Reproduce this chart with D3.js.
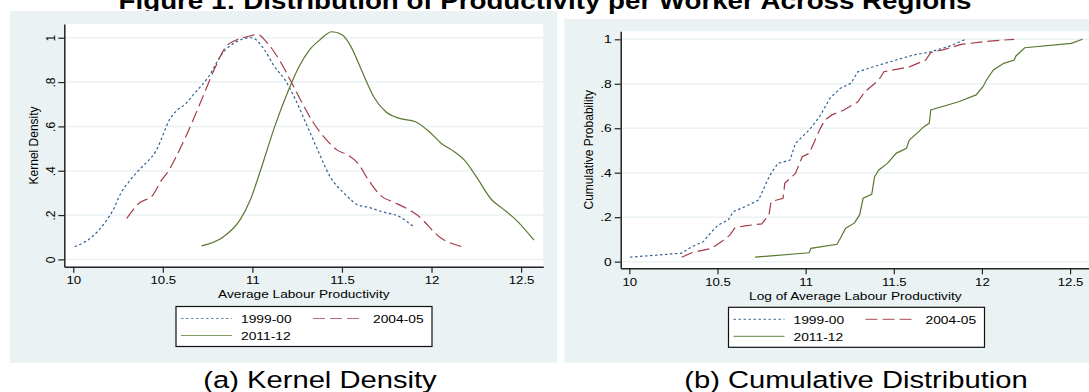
<!DOCTYPE html>
<html>
<head>
<meta charset="utf-8">
<script src="https://cdn.jsdelivr.net/npm/d3@7"></script>
<style>
  body { margin: 0; background: #fff; }
  svg { display: block; font-family: "Liberation Sans", Arial, Helvetica, sans-serif; }
</style>
</head>
<body>
<script>
// kernel density estimates, [log productivity, density]
const kd1999 = [[10.008,0.057],[10.105,0.102],[10.173,0.162],[10.231,0.237],[10.251,0.275],[10.318,0.358],
  [10.367,0.403],[10.464,0.493],[10.542,0.636],[10.581,0.674],[10.619,0.696],[10.677,0.749],[10.755,0.824],
  [10.833,0.930],[10.911,0.982],[10.988,1.000],[11.017,0.993],[11.066,0.947],[11.124,0.869],[11.182,0.810],
  [11.241,0.720],[11.299,0.614],[11.357,0.508],[11.434,0.373],[11.512,0.298],[11.551,0.268],[11.590,0.245],
  [11.648,0.235],[11.725,0.215],[11.822,0.192],[11.900,0.147]];
const kd2004 = [[10.299,0.185],[10.367,0.253],[10.444,0.290],[10.493,0.358],[10.522,0.388],[10.619,0.538],
  [10.716,0.719],[10.794,0.869],[10.852,0.959],[10.911,0.990],[10.988,1.008],[11.027,1.015],[11.085,0.975],
  [11.162,0.884],[11.221,0.794],[11.279,0.704],[11.337,0.621],[11.415,0.538],[11.473,0.493],[11.532,0.471],
  [11.590,0.433],[11.648,0.358],[11.725,0.282],[11.784,0.260],[11.920,0.200],[12.055,0.095],[12.172,0.057]];
const kd2011 = [[10.716,0.061],[10.833,0.099],[10.930,0.177],[10.988,0.268],[11.046,0.403],[11.124,0.598],
  [11.202,0.764],[11.260,0.869],[11.318,0.944],[11.376,0.990],[11.444,1.027],[11.503,1.012],[11.551,0.959],
  [11.609,0.854],[11.677,0.734],[11.745,0.666],[11.822,0.636],[11.910,0.621],[11.997,0.569],[12.055,0.523],
  [12.114,0.493],[12.192,0.440],[12.250,0.373],[12.337,0.268],[12.395,0.230],[12.463,0.185],[12.572,0.087]];

// cumulative distributions, [log productivity, probability]
const cdf1999 = [[10.004,0.020],[10.297,0.038],[10.354,0.067],[10.420,0.090],[10.467,0.135],[10.505,0.165],
  [10.562,0.188],[10.590,0.225],[10.656,0.247],[10.733,0.277],[10.784,0.367],[10.804,0.397],[10.843,0.442],
  [10.912,0.457],[10.942,0.532],[11.020,0.592],[11.079,0.652],[11.138,0.735],[11.197,0.780],[11.257,0.802],
  [11.296,0.854],[11.415,0.884],[11.513,0.907],[11.611,0.929],[11.710,0.944],[11.809,0.967],[11.908,1.000]];
const cdf2004 = [[10.297,0.020],[10.354,0.040],[10.467,0.060],[10.524,0.090],[10.571,0.120],[10.600,0.153],
  [10.656,0.161],[10.751,0.170],[10.792,0.210],[10.804,0.270],[10.872,0.285],[10.882,0.353],[10.942,0.397],
  [10.981,0.472],[11.020,0.487],[11.079,0.592],[11.109,0.637],[11.149,0.660],[11.217,0.682],[11.296,0.719],
  [11.336,0.764],[11.415,0.817],[11.444,0.854],[11.592,0.877],[11.681,0.907],[11.710,0.940],[11.789,0.955],
  [11.888,0.978],[12.045,0.992],[12.183,1.000]];
const cdf2011 = [[10.713,0.020],[11.020,0.040],[11.030,0.060],[11.178,0.078],[11.197,0.105],[11.227,0.150],
  [11.276,0.173],[11.306,0.210],[11.326,0.285],[11.375,0.303],[11.391,0.382],[11.415,0.412],[11.464,0.442],
  [11.513,0.487],[11.572,0.510],[11.588,0.547],[11.631,0.577],[11.671,0.607],[11.701,0.622],[11.710,0.682],
  [11.868,0.719],[11.967,0.750],[12.006,0.787],[12.026,0.817],[12.065,0.862],[12.124,0.892],[12.183,0.907],
  [12.193,0.925],[12.243,0.962],[12.506,0.982],[12.571,1.000]];

const seriesNames = ["1999-00", "2004-05", "2011-12"];
const xTicks = [10, 10.5, 11, 11.5, 12, 12.5];
const yTicks = [0, 0.2, 0.4, 0.6, 0.8, 1];
const yTickLabels = ["0", ".2", ".4", ".6", ".8", "1"];

const styles = [
  { color: "#2f6194", dash: "2.5,2.5" },
  { color: "#a33c47", dash: "12,5" },
  { color: "#58792f", dash: null }
];

// the source figure was widened, so its lettering is stretched sideways
const SX = 1.2;

const svg = d3.select("body").append("svg").attr("width", 1089).attr("height", 392);

function stretched(parent, x, y, size, txt) {
  return parent.append("text")
    .attr("transform", `translate(${x},${y}) scale(${SX},1)`)
    .attr("text-anchor", "middle")
    .attr("font-size", size)
    .text(txt);
}

stretched(svg, 545, 8.5, 23.1, "Figure 1: Distribution of Productivity per Worker Across Regions")
  .attr("font-weight", "bold");

function drawPanel(cfg) {
  const g = svg.append("g");
  const p = cfg.plot;

  g.append("rect")
    .attr("x", cfg.bg[0]).attr("y", cfg.bg[1])
    .attr("width", cfg.bg[2] - cfg.bg[0]).attr("height", cfg.bg[3] - cfg.bg[1])
    .attr("fill", "#eaf2f3");
  g.append("rect")
    .attr("x", p.x0).attr("y", p.y0)
    .attr("width", p.x1 - p.x0).attr("height", p.y1 - p.y0)
    .attr("fill", "#fff");

  const x = d3.scaleLinear().domain(cfg.xDomain).range([p.x0, p.x1]);
  const y = d3.scaleLinear().domain(cfg.yDomain).range([p.y1, p.y0]);

  // grid
  g.selectAll("line.grid")
    .data(yTicks)
    .enter()
    .append("line")
    .attr("x1", p.x0).attr("x2", p.x1)
    .attr("y1", d => y(d)).attr("y2", d => y(d))
    .attr("stroke", "#eaf2f3")
    .attr("stroke-width", 1.5);

  const clipId = "clip-" + cfg.id;
  g.append("clipPath").attr("id", clipId)
    .append("rect")
    .attr("x", p.x0).attr("y", p.y0)
    .attr("width", p.x1 - p.x0).attr("height", p.y1 - p.y0);

  const line = d3.line()
    .x(d => x(d[0]))
    .y(d => y(d[1]))
    .curve(cfg.curve);

  g.append("g").attr("clip-path", `url(#${clipId})`)
    .selectAll("path")
    .data(cfg.series)
    .enter()
    .append("path")
    .attr("d", d => line(d))
    .attr("fill", "none")
    .attr("stroke", (d, i) => styles[i].color)
    .attr("stroke-width", 1.2)
    .attr("stroke-dasharray", (d, i) => styles[i].dash);

  // y axis
  const yAxis = g.append("g")
    .attr("transform", `translate(${p.x0},0)`)
    .call(d3.axisLeft(y).tickValues(yTicks).tickFormat((d, i) => yTickLabels[i]).tickSize(6).tickPadding(3).tickSizeOuter(0));
  if (cfg.rotateY) {
    yAxis.selectAll(".tick text")
      .attr("transform", "rotate(-90)")
      .attr("x", 0).attr("y", -9).attr("dy", 0)
      .attr("text-anchor", "middle")
      .attr("font-size", 12);
  } else {
    yAxis.selectAll(".tick text")
      .attr("x", -9 / SX)
      .attr("transform", `scale(${SX},1)`)
      .attr("font-size", 11.5);
  }

  // x axis
  const xAxis = g.append("g")
    .attr("transform", `translate(0,${p.y1})`)
    .call(d3.axisBottom(x).tickValues(xTicks).tickFormat(d3.format("")).tickSize(6).tickPadding(cfg.xPad).tickSizeOuter(0));
  xAxis.selectAll(".tick text")
    .attr("transform", `scale(${SX},1)`)
    .attr("font-size", 11);

  [yAxis, xAxis].forEach(a => {
    a.selectAll("text").attr("fill", "#000");
    a.selectAll("line").attr("stroke", "#222").attr("stroke-width", 1.2);
    a.select(".domain").attr("stroke", "#222").attr("stroke-width", 1.5);
  });
  yAxis.attr("font-family", null);
  xAxis.attr("font-family", null);

  g.append("text")
    .attr("transform", `translate(${cfg.yTitlePos[0]},${cfg.yTitlePos[1]}) rotate(-90)`)
    .attr("text-anchor", "middle")
    .attr("font-size", 12)
    .text(cfg.yTitle);

  stretched(g, (p.x0 + p.x1) / 2, cfg.xTitleY, 11.4, cfg.xTitle);

  // legend
  const lg = g.append("g").attr("transform", `translate(${cfg.legend[0]},${cfg.legend[1]})`);
  lg.append("rect")
    .attr("width", 256).attr("height", 40)
    .attr("fill", "#fff").attr("stroke", "#111").attr("stroke-width", 1.2);
  const items = lg.selectAll("g")
    .data(seriesNames)
    .enter()
    .append("g")
    .attr("transform", (d, i) => `translate(${i === 1 ? 132 : 0},${i === 2 ? 29 : 12})`);
  items.append("line")
    .attr("x1", 5).attr("x2", 56)
    .attr("stroke", (d, i) => styles[i].color)
    .attr("stroke-width", 1.2)
    .attr("stroke-opacity", 0.75)
    .attr("stroke-dasharray", (d, i) => styles[i].dash);
  items.append("text")
    .attr("transform", `translate(65,4.2) scale(${SX},1)`)
    .attr("font-size", 11.5)
    .text(d => d);

  stretched(svg, cfg.caption[0], cfg.caption[1], 24.3, cfg.captionText);
}

drawPanel({
  id: "a",
  bg: [10, 11, 557.3, 362.7],
  plot: { x0: 64.3, x1: 543.3, y0: 24, y1: 266.7 },
  xDomain: [9.95, 12.624],
  yDomain: [-0.033, 1.062],
  series: [kd1999, kd2004, kd2011],
  curve: d3.curveMonotoneX,
  rotateY: true,
  xPad: 3,
  yTitle: "Kernel Density",
  yTitlePos: [38, 145.4],
  xTitle: "Average Labour Productivity",
  xTitleY: 297.5,
  legend: [176, 306.5],
  caption: [320, 388],
  captionText: "(a) Kernel Density"
});

drawPanel({
  id: "b",
  bg: [564.3, 19, 1095, 362.7],
  plot: { x0: 620.7, x1: 1090, y0: 31.3, y1: 268.3 },
  xDomain: [9.951, 12.613],
  yDomain: [-0.030, 1.036],
  series: [cdf1999, cdf2004, cdf2011],
  curve: d3.curveLinear,
  rotateY: false,
  xPad: 4,
  yTitle: "Cumulative Probability",
  yTitlePos: [593, 149.8],
  xTitle: "Log of Average Labour Productivity",
  xTitleY: 300,
  legend: [728.5, 307.3],
  caption: [856, 388],
  captionText: "(b) Cumulative Distribution"
});
</script>
</body>
</html>
